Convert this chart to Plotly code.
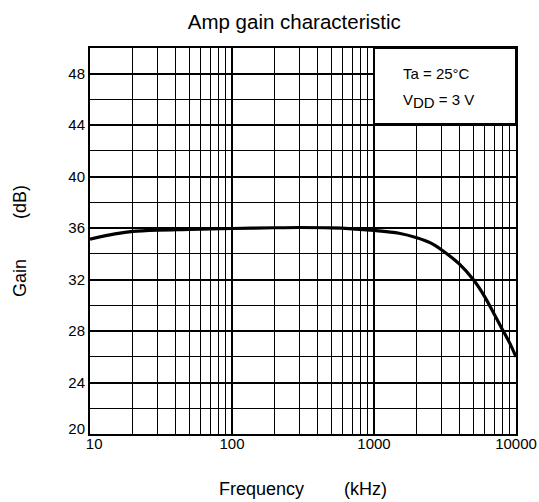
import plotly.graph_objects as go

# Data
freq_khz = [10, 15, 20, 30, 50, 100, 200, 300, 500, 700, 1000, 1500, 2000,
            2500, 3000, 4000, 5000, 6000, 7000, 8000, 9000, 10000]
gain_db = [35.15, 35.55, 35.75, 35.85, 35.9, 35.97, 36.03, 36.05, 36.02, 35.95,
           35.82, 35.6, 35.25, 34.85, 34.3, 33.2, 32.0, 30.7, 29.35, 28.15,
           27.1, 26.0]
x_ticks = [10, 100, 1000, 10000]
x_tick_text = ["10", "100", "1000", "10000"]
y_ticks = [20, 24, 28, 32, 36, 40, 44, 48]
cond_lines = ["Ta = 25°C", "V<span style=\"baseline-shift:-3px\">DD</span> = 3 V"]

FONT = "Liberation Sans, Arial, sans-serif"
NB = "\u00a0"

# Corner labels nudged apart (as in the reference) so "10" and "20" don't collide
x_labels = [(NB * 2 + t) if i == 0 else t for i, t in enumerate(x_tick_text)]
y_labels = [("<span style='baseline-shift:5px'>%d</span>" % v) if i == 0 else str(v)
            for i, v in enumerate(y_ticks)]

fig = go.Figure()
fig.add_trace(go.Scatter(
    x=freq_khz, y=gain_db, mode="lines",
    line=dict(color="black", width=3.2, shape="spline", smoothing=0.8),
    showlegend=False, hoverinfo="skip",
))

fig.update_layout(
    width=539, height=502,
    margin=dict(l=90, r=23, t=48, b=68, pad=0),
    paper_bgcolor="white", plot_bgcolor="white",
    font=dict(family=FONT, color="black", size=15),
    title=dict(text="Amp gain characteristic", x=0.546, xanchor="center",
               y=1 - 22 / 502, yanchor="middle", yref="container",
               font=dict(size=20.5, family=FONT, color="black")),
    showlegend=False,
)

fig.update_xaxes(
    type="log", range=[1, 4], tickvals=x_ticks, ticktext=x_labels,
    ticks="", showline=True, linewidth=2, linecolor="black", mirror=True,
    showgrid=True, gridcolor="black", gridwidth=1.6,
    minor=dict(dtick="D1", showgrid=True, gridcolor="black", gridwidth=1, ticks=""),
    tickfont=dict(size=15, family=FONT, color="black"),
    ticklabelstandoff=-5,
    title=dict(text="Frequency" + NB * 8 + "(kHz)", standoff=31,
               font=dict(size=18, family=FONT, color="black")),
    automargin=False, zeroline=False,
)
fig.update_yaxes(
    range=[20, 50], tickvals=y_ticks, ticktext=y_labels,
    ticks="", showline=True, linewidth=2, linecolor="black", mirror=True,
    showgrid=True, gridcolor="black", gridwidth=1.6,
    minor=dict(dtick=2, tick0=20, showgrid=True, gridcolor="black", gridwidth=1, ticks=""),
    tickfont=dict(size=15, family=FONT, color="black"),
    title=dict(text="Gain" + NB * 8 + "(dB)", standoff=37,
               font=dict(size=18, family=FONT, color="black")),
    automargin=False, zeroline=False,
)

# Condition box (white panel in the top-right of the plot area)
fig.add_shape(type="rect", xref="paper", yref="paper",
              x0=2 / 3, x1=1, y0=0.803, y1=1,
              line=dict(color="black", width=2), fillcolor="white", layer="above")
for i, txt in enumerate(cond_lines):
    fig.add_annotation(xref="paper", yref="paper", x=0.729, y=[0.934, 0.863][i],
                       xanchor="left", yanchor="middle", showarrow=False,
                       text=txt, font=dict(size=15, family=FONT, color="black"))

fig.write_html("out.html", config={"displayModeBar": False},
               post_script="document.body.style.margin='0';document.body.style.padding='0';")
